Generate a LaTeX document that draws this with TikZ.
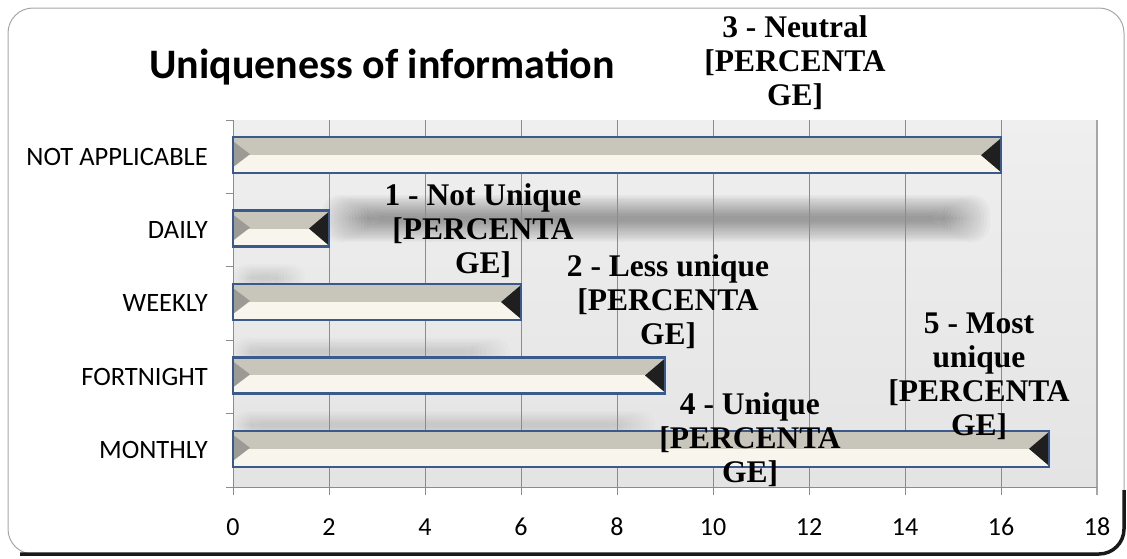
\documentclass[tikz,border=0pt]{standalone}
\usepackage{fontspec}
\setmainfont{Liberation Serif}
\newfontfamily\calib{Carlito}
\usetikzlibrary{positioning, calc}

\definecolor{barblue}{HTML}{3A5A8C}
\definecolor{bartan}{HTML}{C8C5BA}
\definecolor{barcream}{HTML}{F8F6EC}
\definecolor{bevelgrey}{HTML}{9C9A94}
\definecolor{plotgrey}{HTML}{E4E4E4}
\definecolor{gridgrey}{HTML}{8C8C8C}

\begin{document}
\begin{tikzpicture}[x=1pt, y=-1pt]
    % Styles
    \tikzstyle{catlabel} = [anchor=east, inner sep=0pt, font=\calib\fontsize{26.5}{30}\selectfont]
    \tikzstyle{ticklabel} = [anchor=center, inner sep=0pt, font=\calib\fontsize{26}{30}\selectfont]
    \tikzstyle{datalabel} = [align=center, inner sep=0pt, font=\bfseries\fontsize{31.5}{34}\selectfont]
    \tikzstyle{gridline} = [draw=gridgrey, line width=0.8pt]
    \tikzstyle{smudge} = [black, opacity=0.022, rounded corners=18pt]
    \tikzstyle{faint} = [black, opacity=0.012, rounded corners=14pt]

    \useasboundingbox (0,0) rectangle (1127,558);

    % Frame
    \draw[gray!70, line width=1pt, rounded corners=25pt] (8,8) rectangle (1124,554);
    \draw[black!90, line width=3.5pt, rounded corners=25pt] (20,554) -- (1124,554) -- (1124,490);

    % Plot area
    \shade[top color=plotgrey!60, bottom color=plotgrey] (233,120) rectangle (1097,487);
    % soft shadows
    \foreach \k in {0,...,15}
        \fill[smudge] ({322+3*\k},{195+1.4*\k}) rectangle ({990-3*\k},{242-1.4*\k});
    \foreach \k in {0,...,9} {
        \fill[faint] ({233+2*\k},{338+1.3*\k}) rectangle ({510-4*\k},{366-1.3*\k});
        \fill[faint] ({233+2*\k},{411+1.3*\k}) rectangle ({655-4*\k},{439-1.3*\k});
        \fill[faint] ({233+2*\k},{264+1.3*\k}) rectangle ({305-3*\k},{292-1.3*\k});
    }
    \foreach \v in {2,4,...,16}
        \draw[gridline] ({233+48*\v},120) -- ({233+48*\v},495);
    \draw[gray!70, line width=1.2pt] (1097,120) -- (1097,495);
    \draw[gridline] (226,487) -- (1097,487);
    \draw[gridline] (233,120) -- (233,495);
    \foreach \i in {0,...,5}
        \draw[gridline] (226,{120+73.4*\i}) -- (233,{120+73.4*\i});

    % Bars
    \foreach \val/\yc in {16/155.2, 2/228.6, 6/302, 9/375.4, 17/448.8} {
        \pgfmathsetmacro{\xe}{233+48*\val}
        \fill[bartan] (233,{\yc-18}) rectangle (\xe,\yc);
        \fill[barcream] (233,\yc) rectangle (\xe,{\yc+18});
        \fill[bevelgrey] (233,{\yc-14}) -- (250,{\yc-1}) -- (233,{\yc+12});
        \fill[black!88] (\xe,{\yc-17}) -- ({\xe-20},\yc) -- (\xe,{\yc+17});
        \draw[barblue, line width=2.5pt] (233,{\yc-18}) rectangle (\xe,{\yc+18});
    }

    % Nodes
    \node[anchor=base, inner sep=0pt, font=\calib\bfseries\fontsize{42}{47}\selectfont] (title) at (382,78) {Uniqueness of information};

    \node[catlabel] (catna) at (208,157) {NOT APPLICABLE};
    \node[catlabel] (catdaily) at (208,230) {DAILY};
    \node[catlabel] (catweekly) at (208,303) {WEEKLY};
    \node[catlabel] (catfort) at (208,377) {FORTNIGHT};
    \node[catlabel] (catmonthly) at (208,450) {MONTHLY};

    \foreach \v in {0,2,...,18}
        \node[ticklabel] (tick\v) at ({233+48*\v},527) {\v};

    \node[datalabel] (neutral) at (795,63) {3 - Neutral\\{[}PERCENTA\\GE{]}};
    \node[datalabel] (notunique) at (483,231) {1 - Not Unique\\{[}PERCENTA\\GE{]}};
    \node[datalabel] (lessunique) at (668,302) {2 - Less unique\\{[}PERCENTA\\GE{]}};
    \node[datalabel] (unique) at (750,440) {4 - Unique\\{[}PERCENTA\\GE{]}};
    \node[datalabel] (mostunique) at (979,376) {5 - Most\\unique\\{[}PERCENTA\\GE{]}};

\end{tikzpicture}
\end{document}
